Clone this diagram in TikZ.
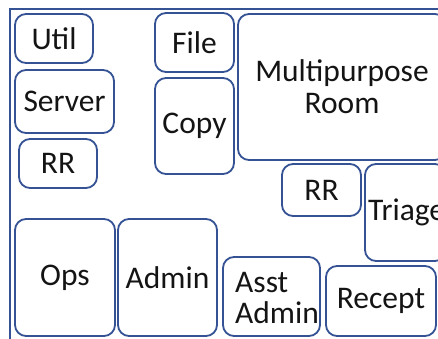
\documentclass[tikz,border=0pt]{standalone}
\usepackage{fontspec}
\setmainfont{Carlito}
\definecolor{edge}{RGB}{52,82,148}
\definecolor{ink}{RGB}{20,20,20}
\begin{document}
\begin{tikzpicture}[x=1pt,y=-1pt,
  room/.style={draw=edge,line width=1.8pt,rounded corners=11pt,fill=white},
  label/.style={inner sep=0pt,text=ink,font=\fontsize{31.5}{32}\selectfont,align=center},
  wall/.style={draw=edge,line width=2.4pt}]
\useasboundingbox (0,0) rectangle (438,339);
\fill[white] (0,0) rectangle (438,339);
\coordinate (tl) at (10,9);
\coordinate (tr) at (440,9);
\coordinate (bl) at (10,341);
\draw[wall] (tr) -- (tl) -- (bl);
\newcommand{\room}[6]{%
  \path[room] (#2,#3) rectangle (#4,#5);
  \node[label] (#1) at ({(#2+#4)/2},{(#3+#5)/2}) {#6};}
\room{util}{15}{14}{93}{63}{Util}
\room{server}{15}{70}{114}{133}{Server}
\room{rra}{19}{139}{97}{188}{RR}
\room{file}{155}{13}{234}{72}{File}
\room{copy}{155}{78}{234}{174}{Copy}
\room{mpr}{238}{14}{446}{160}{Multipurpose\\Room}
\room{rrb}{282}{164}{361}{216}{RR}
\path[room] (365,164) rectangle (446,261);
\node[label,anchor=west] (triage) at (368,212) {Triage};
\room{ops}{15}{219}{115}{336}{Ops}
\room{admin}{118}{219}{217}{336}{Admin}
\path[room] (223,257) rectangle (320,336);
\node[label,font=\fontsize{31.5}{31}\selectfont,align=left,anchor=west] (asst) at (235,298) {Asst\\Admin};
\room{recept}{326}{266}{436}{336}{Recept}
\end{tikzpicture}
\end{document}
